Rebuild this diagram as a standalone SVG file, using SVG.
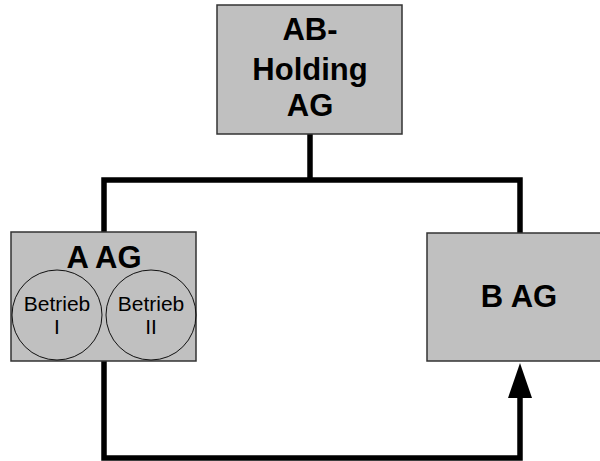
<svg xmlns="http://www.w3.org/2000/svg" width="600" height="461" viewBox="0 0 600 461">
<style>
.box{fill:#c0c0c0;stroke:#333;stroke-width:1.5}
.circ{fill:none;stroke:#111;stroke-width:1}
.big{font-family:"Liberation Sans",Arial,sans-serif;font-weight:bold;font-size:31px;text-anchor:middle;fill:#000}
.small{font-family:"Liberation Sans",Arial,sans-serif;font-size:21px;text-anchor:middle;fill:#000}
.conn{fill:none;stroke:#000;stroke-width:5.5;stroke-linejoin:miter;stroke-linecap:butt}
</style>
<rect x="0" y="0" width="600" height="461" fill="#fff"/>
<g id="connectors">
<polyline class="conn" points="310,134 310,180"/>
<polyline class="conn" points="104,232 104,180 520,180 520,233"/>
<path class="conn" d="M104 361 L104 458 L520 458 L520 398"/>
<path d="M520 363 L532 398 L508 398 Z" fill="#000"/>
</g>
<g id="holding">
<rect class="box" x="217" y="5" width="185" height="129"/>
<text class="big" x="310" y="40">AB-</text>
<text class="big" x="310" y="80">Holding</text>
<text class="big" x="310" y="116">AG</text>
</g>
<g id="aag">
<rect class="box" x="11" y="232" width="185" height="129"/>
<text class="big" x="104" y="268">A AG</text>
<g id="betrieb1">
<circle class="circ" cx="57" cy="315" r="45"/>
<text class="small" x="57" y="311">Betrieb</text>
<text class="small" x="57" y="334">I</text>
</g>
<g id="betrieb2">
<circle class="circ" cx="151" cy="315" r="45"/>
<text class="small" x="151" y="311">Betrieb</text>
<text class="small" x="151" y="334">II</text>
</g>
</g>
<g id="bag">
<rect class="box" x="427" y="233" width="180" height="128"/>
<text class="big" x="519" y="307">B AG</text>
</g>
</svg>
